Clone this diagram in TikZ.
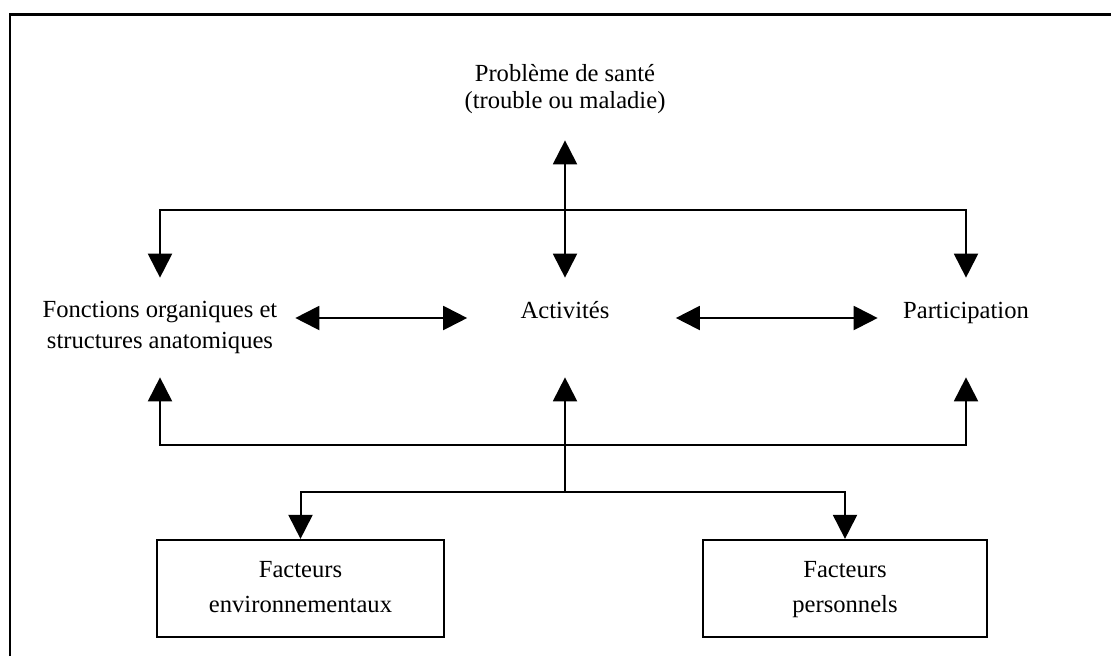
\documentclass[tikz,border=0pt]{standalone}
\usepackage{fontspec}
\setmainfont{Liberation Serif}
\usetikzlibrary{arrows.meta}

\begin{document}
\begin{tikzpicture}[x=0.02cm, y=-0.02cm,
    >={Triangle[width=0.48cm,length=0.48cm]},
    lbl/.style={anchor=base, inner sep=0pt, align=center, text height=0.8cm, text depth=1.18cm},
    facbox/.style={draw, line width=0.035cm, inner sep=0pt, minimum height=1.95cm, align=center,
        text height=1.2cm, text depth=0.26cm, font=\fontsize{14}{19.4}\selectfont},
    arr/.style={->, line width=0.04cm},
    dbl/.style={<->, line width=0.04cm}]
\useasboundingbox (0,0) rectangle (1111,656);
\fontsize{14}{17}\selectfont

% Frame
\draw[line width=0.06cm] (10,656) -- (10,14) -- (1111,14);

% Nodes
\node[anchor=base, inner sep=0pt, align=center, text height=1.0cm, text depth=0.64cm,
    font=\fontsize{14}{14.8}\selectfont] (sante) at (565,108) {Problème de santé\\(trouble ou maladie)};
\node[lbl, minimum width=5.4cm, text height=1.4cm, text depth=0.58cm,
    font=\fontsize{14}{17.1}\selectfont] (fonc) at (160,348)
    {Fonctions organiques et\\structures anatomiques};
\node[lbl, minimum width=3.9cm] (act) at (565,318) {Activités};
\node[lbl, minimum width=3.52cm] (part) at (966,318) {Participation};
\node[facbox, minimum width=5.74cm] (env) at (300.5,588.5) {Facteurs\\environnementaux};
\node[facbox, minimum width=5.68cm] (perso) at (845,588.5) {Facteurs\\personnels};

\coordinate (hubTop) at (565,210);
\coordinate (hubMid) at (565,445);
\coordinate (hubLow) at (565,492);

% Connectors
\draw[dbl] (sante.south) -- (act.north);
\draw[arr] (hubTop) -| (fonc.north);
\draw[arr] (hubTop) -| (part.north);
\draw[dbl] (fonc.east |- act.base west) -- (act.base west);
\draw[dbl, shorten <=0.26cm] (act.base east) -- (part.base west);
\draw[arr] (hubMid) -| (fonc.south);
\draw[arr] (hubMid) -| (part.south);
\draw[arr] (hubLow) -- (act.south);
\draw[arr] (hubLow) -| (env.north);
\draw[arr] (hubLow) -| (perso.north);
\end{tikzpicture}
\end{document}
